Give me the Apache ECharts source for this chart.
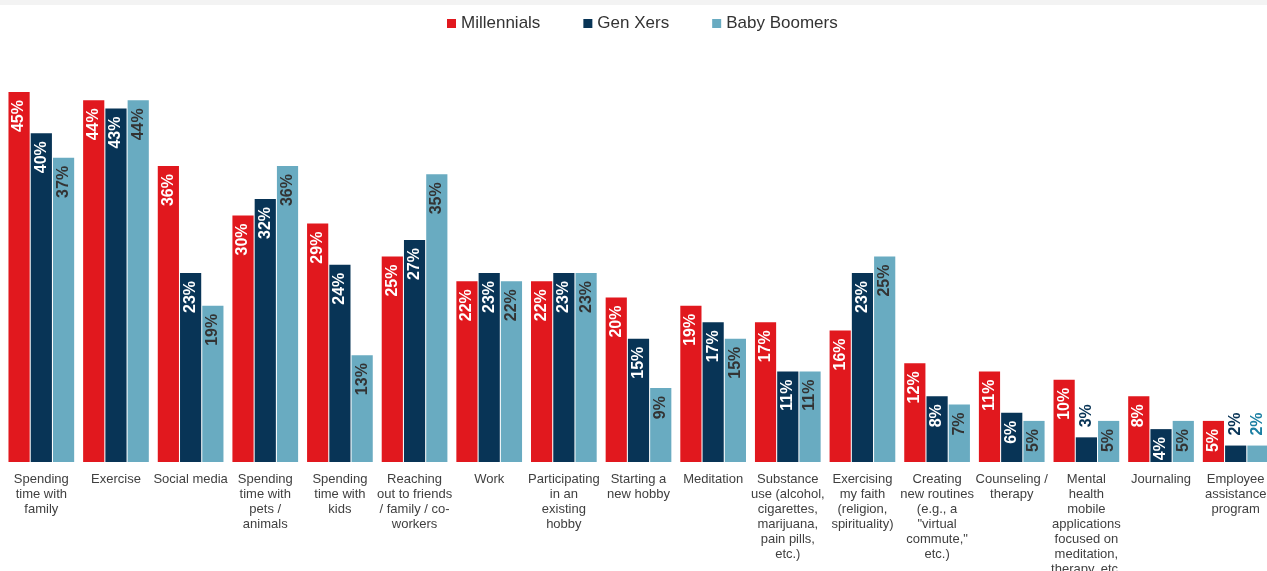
<!DOCTYPE html>
<html>
<head>
<meta charset="utf-8">
<title>Coping activities by generation</title>
<script src="https://cdn.jsdelivr.net/npm/echarts@6/dist/echarts.min.js"></script>
<style>
  html, body { margin: 0; padding: 0; background: #ffffff; }
  #chart { width: 1267px; height: 571px; }
</style>
</head>
<body>
<div id="chart"></div>
<script>
// Activity categories (line breaks follow the axis label wrapping)
const categories = [
  'Spending\ntime with\nfamily',
  'Exercise',
  'Social media',
  'Spending\ntime with\npets /\nanimals',
  'Spending\ntime with\nkids',
  'Reaching\nout to friends\n/ family / co-\nworkers',
  'Work',
  'Participating\nin an\nexisting\nhobby',
  'Starting a\nnew hobby',
  'Meditation',
  'Substance\nuse (alcohol,\ncigarettes,\nmarijuana,\npain pills,\netc.)',
  'Exercising\nmy faith\n(religion,\nspirituality)',
  'Creating\nnew routines\n(e.g., a\n"virtual\ncommute,"\netc.)',
  'Counseling /\ntherapy',
  'Mental\nhealth\nmobile\napplications\nfocused on\nmeditation,\ntherapy, etc.',
  'Journaling',
  'Employee\nassistance\nprogram'
];

// Share of respondents (%) per generation
const millennials = [45, 44, 36, 30, 29, 25, 22, 22, 20, 19, 17, 16, 12, 11, 10, 8, 5];
const genXers     = [40, 43, 23, 32, 24, 27, 23, 23, 15, 17, 11, 23, 8, 6, 3, 4, 2];
const boomers     = [37, 44, 19, 36, 13, 35, 22, 23, 9, 15, 11, 25, 7, 5, 5, 5, 2];

const seriesNames = ['Millennials', 'Gen Xers', 'Baby Boomers'];
const colors = ['#e1181e', '#083456', '#69abc1'];
const insideLabelColors = ['#ffffff', '#ffffff', '#333333'];
const outsideLabelColors = ['#e1181e', '#083456', '#1b7fa3'];

// Values too small to hold their label inside the bar
const OUTSIDE_LIMIT = 3;

function buildData(values, idx) {
  return values.map(v => {
    if (v <= OUTSIDE_LIMIT) {
      return {
        value: v,
        label: {
          position: 'top',
          distance: 10,
          align: 'left',
          color: outsideLabelColors[idx]
        }
      };
    }
    return v;
  });
}

function makeSeries(name, values, idx) {
  return {
    name: name,
    type: 'bar',
    data: buildData(values, idx),
    barGap: '5%',
    barCategoryGap: '12%',
    itemStyle: { color: colors[idx] },
    label: {
      show: true,
      position: 'insideTop',
      distance: 8,
      rotate: 90,
      align: 'right',
      verticalAlign: 'middle',
      formatter: p => p.value + '%',
      color: insideLabelColors[idx],
      fontFamily: 'Arial, "Liberation Sans", sans-serif',
      fontWeight: 'bold',
      fontSize: 16
    }
  };
}

const chart = echarts.init(document.getElementById('chart'), null, { renderer: 'canvas' });

chart.setOption({
  animation: false,
  backgroundColor: '#ffffff',
  graphic: [{
    type: 'rect',
    left: 0,
    top: 0,
    shape: { width: 1267, height: 5 },
    style: { fill: '#f3f3f3' },
    silent: true
  }],
  legend: {
    data: seriesNames,
    left: 447,
    top: 15,
    padding: 0,
    itemWidth: 9,
    itemHeight: 9,
    itemGap: 43,
    icon: 'rect',
    textStyle: {
      fontFamily: 'Arial, "Liberation Sans", sans-serif',
      fontSize: 17,
      color: '#333333'
    }
  },
  grid: {
    left: 4,
    top: 51,
    width: 1269,
    height: 411,
    outerBoundsMode: 'none',
    containLabel: false
  },
  xAxis: {
    type: 'category',
    data: categories,
    axisLine: { show: false },
    axisTick: { show: false },
    axisLabel: {
      interval: 0,
      margin: 10,
      fontFamily: 'Arial, "Liberation Sans", sans-serif',
      fontSize: 13,
      lineHeight: 15,
      color: '#404040',
      align: 'center'
    }
  },
  yAxis: {
    type: 'value',
    min: 0,
    max: 50,
    show: false,
    splitLine: { show: false }
  },
  series: [
    makeSeries(seriesNames[0], millennials, 0),
    makeSeries(seriesNames[1], genXers, 1),
    makeSeries(seriesNames[2], boomers, 2)
  ]
});
</script>
</body>
</html>
